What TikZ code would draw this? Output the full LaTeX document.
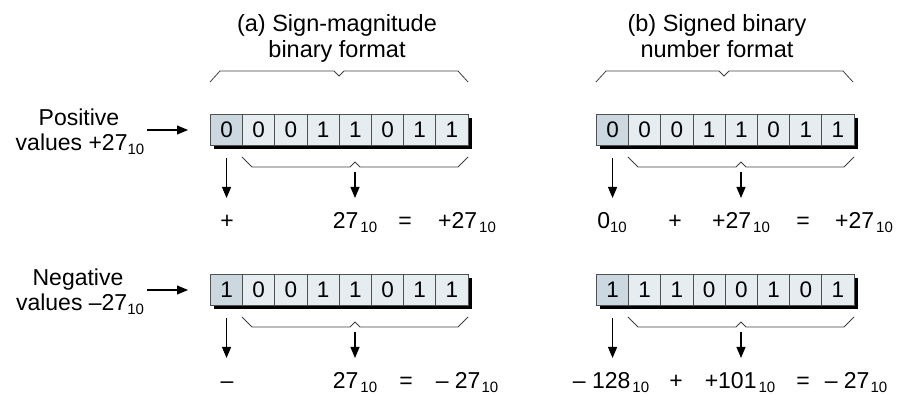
\documentclass[tikz,border=0pt]{standalone}
\usepackage{fontspec}
\setmainfont{Liberation Sans}
\usetikzlibrary{arrows.meta}
\definecolor{signfill}{HTML}{CBD8DF}
\definecolor{bitfill}{HTML}{E6EDF0}
\definecolor{edge}{HTML}{505050}
\definecolor{bracecol}{HTML}{404040}
\newcommand{\sbs}[1]{\raisebox{-4pt}{\fontsize{15}{15}\selectfont #1}}
\newcommand{\myregister}[4]{%
  \fill[shadowbox] (#2+4,#3+4) rectangle (#2+8*32.2+4,#3+31.5+4);
  \foreach \b [count=\i from 0] in {#4} {
    \ifnum\i=0
      \node[signbox] (#1-\i) at (#2+\i*32.2,#3) {\b};
    \else
      \node[cellbox] (#1-\i) at (#2+\i*32.2,#3) {\b};
    \fi
  }%
}
\tikzset{
  txt/.style={inner sep=0pt, anchor=base, font=\fontsize{23}{26}\selectfont},
  ttl/.style={inner sep=0pt, anchor=base, font=\fontsize{23.5}{26}\selectfont},
  cellbox/.style={draw=edge, line width=0.9pt, fill=bitfill, minimum width=32.2pt, minimum height=31.5pt, inner sep=0pt, anchor=north west, font=\fontsize{22.5}{24}\selectfont},
  signbox/.style={cellbox, fill=signfill},
  shadowbox/.style={fill=black, draw=none},
  bracel/.style={draw=bracecol, line width=0.8pt},
  arr/.style={draw=black, line width=1.1pt, -{Triangle[length=11pt,width=9pt]}},
}
\begin{document}
\begin{tikzpicture}[x=1pt,y=-1pt]
\useasboundingbox (0,0) rectangle (903,395);

% titles
\node[ttl] (ta1) at (337,32) {(a) Sign-magnitude};
\node[ttl] (ta2) at (337,58) {binary format};
\node[ttl] (tb1) at (717,32) {(b) Signed binary};
\node[ttl] (tb2) at (717,58) {number format};

% top braces
\draw[bracel] (210,82) coordinate (bta0) -- (220,71) -- (334,71) -- (339,76) coordinate (bta) -- (344,71) -- (458,71) -- (468,82);
\draw[bracel] (596,82) coordinate (btb0) -- (606,71) -- (719,71) -- (724,76) coordinate (btb) -- (729,71) -- (843,71) -- (853,82);

% registers
\myregister{a1}{210}{114}{0,0,0,1,1,0,1,1}
\myregister{a2}{210}{274}{1,0,0,1,1,0,1,1}
\myregister{b1}{596}{114}{0,0,0,1,1,0,1,1}
\myregister{b2}{596}{274}{1,1,1,0,0,1,0,1}

% lower braces
\foreach \xs/\yb/\nm in {242/157/a1, 628/157/b1, 242/317/a2, 628/317/b2}{
  \pgfmathsetmacro\xe{\xs+226}
  \pgfmathsetmacro\xc{(\xs+\xe)/2}
  \draw[bracel] (\xs,\yb) -- (\xs+10,\yb+10) -- (\xc-5,\yb+10) -- (\xc,\yb+5) -- (\xc+5,\yb+10) -- (\xe-10,\yb+10) -- (\xe,\yb);
  \coordinate (br-\nm) at (\xc,\yb+15);
}

% left labels
\node[txt] (pos1) at (79,126) {Positive};
\node[txt] (pos2) at (80,151) {values +27\sbs{10}};
\node[txt] (neg1) at (78,286) {Negative};
\node[txt] (neg2) at (80,311) {values –27\sbs{10}};
\coordinate (lp) at (147,130);
\coordinate (ln) at (147,290);
\draw[arr] (lp) -- (188,130) coordinate (lpe);
\draw[arr] (ln) -- (188,290) coordinate (lne);

% results row 1 (a)
\node[txt] (ra1s) at (227,229) {+};
\node[txt] (ra1m) at (355,229) {27\kern2pt\sbs{10}};
\node[txt] (ra1e) at (405,229) {=};
\node[txt] (ra1r) at (467,229) {+27\kern2pt\sbs{10}};
% results row 2 (a)
\node[txt] (ra2s) at (227,389) {–};
\node[txt] (ra2m) at (355,389) {27\kern2pt\sbs{10}};
\node[txt] (ra2e) at (406,389) {=};
\node[txt] (ra2r) at (467,389) {– 27\kern1pt\sbs{10}};
% results row 1 (b)
\node[txt] (rb1s) at (612,229) {0\sbs{10}};
\node[txt] (rb1p) at (675,229) {+};
\node[txt] (rb1m) at (741,229) {+27\kern2pt\sbs{10}};
\node[txt] (rb1e) at (803,229) {=};
\node[txt] (rb1r) at (864,229) {+27\kern2pt\sbs{10}};
% results row 2 (b)
\node[txt] (rb2s) at (611,389) {– 128\kern2pt\sbs{10}};
\node[txt] (rb2p) at (676,389) {+};
\node[txt] (rb2m) at (740,389) {+101\kern2pt\sbs{10}};
\node[txt] (rb2e) at (803,389) {=};
\node[txt] (rb2r) at (856,389) {– 27\kern1pt\sbs{10}};

% vertical arrows
\draw[arr] ([yshift=-11.5pt]a1-0.south) -- (a1-0.south |- 0,198);
\draw[arr] ([yshift=-11.5pt]a2-0.south) -- (a2-0.south |- 0,358);
\draw[arr] ([yshift=-11.5pt]b1-0.south) -- (b1-0.south |- 0,198);
\draw[arr] ([yshift=-11.5pt]b2-0.south) -- (b2-0.south |- 0,358);
\draw[arr] (br-a1) -- (br-a1 |- 0,198);
\draw[arr] (br-a2) -- (br-a2 |- 0,358);
\draw[arr] (br-b1) -- (br-b1 |- 0,198);
\draw[arr] (br-b2) -- (br-b2 |- 0,358);
\end{tikzpicture}
\end{document}
